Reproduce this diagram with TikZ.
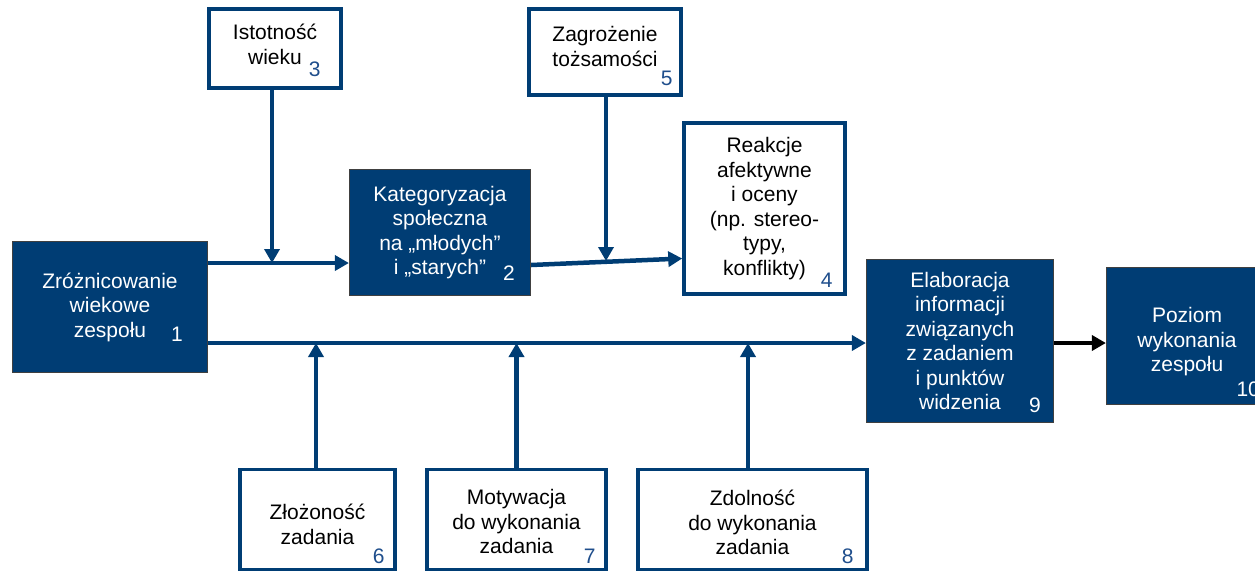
\documentclass[tikz,border=0pt]{standalone}
\usepackage{fontspec}
\setmainfont{Liberation Sans}
\usetikzlibrary{arrows.meta}
\definecolor{navy}{RGB}{0,61,116}
\definecolor{numblue}{RGB}{31,78,140}
\newcommand{\padtop}[1]{\rule{0pt}{#1}}
\newcommand{\padbot}[1]{\rule[-#1]{0pt}{#1}}

\begin{document}
\begin{tikzpicture}[x=1pt, y=-1pt,
        font=\fontsize{21}{24.5}\selectfont,
        darkbox/.style={draw=black!75, line width=1.2pt, fill=navy, text=white,
            align=center, inner sep=0pt},
        whitebox/.style={draw=navy, line width=3.5pt, fill=white,
            align=center, inner sep=0pt},
        num/.style={anchor=base east, inner sep=0pt, text=numblue},
        dnum/.style={num, text=white},
        arr/.style={draw=navy, line width=4.5pt, -{Triangle[length=14pt,width=15pt]}},
        blackarr/.style={draw=black, line width=4pt, -{Triangle[length=14pt,width=15pt]}}]
     \clip (0,0) rectangle (1255,571);
     % boxes
     \node[darkbox, minimum width=195pt, minimum height=131pt] (zroz) at (110,307)
        {Zróżnicowanie\\wiekowe\\zespołu};
     \node[darkbox, minimum width=181pt, minimum height=126pt] (kat) at (440,232.5)
        {Kategoryzacja\\społeczna\\na „młodych”\\i „starych”};
     \node[whitebox, minimum width=132pt, minimum height=79pt] (ist) at (275,48.5)
        {Istotność\\wieku\padbot{8pt}};
     \node[whitebox, minimum width=152pt, minimum height=86pt] (zagr) at (605,52)
        {Zagrożenie\\tożsamości\padbot{11pt}};
     \node[whitebox, minimum width=161pt, minimum height=171pt] (reak) at (764.5,208.5)
        {Reakcje\\afektywne\\i oceny\\(np. stereo-\\typy,\\konflikty)};
     \node[darkbox, minimum width=187pt, minimum height=163pt] (elab) at (960,341)
        {Elaboracja\\informacji\\związanych\\z zadaniem\\i punktów\\widzenia};
     \node[darkbox, minimum width=161pt, minimum height=137pt] (poziom) at (1187,336)
        {\padtop{27pt}Poziom\\wykonania\\zespołu};
     \node[whitebox, minimum width=155pt, minimum height=100pt] (zloz) at (317.5,519.5)
        {\padtop{25pt}Złożoność\\zadania};
     \node[whitebox, minimum width=179pt, minimum height=100pt] (motyw) at (516.5,519.5)
        {\padtop{20pt}Motywacja\\do wykonania\\zadania};
     \node[whitebox, minimum width=229pt, minimum height=100pt] (zdoln) at (752.5,519.5)
        {\padtop{22pt}Zdolność\\do wykonania\\zadania};
     % numbers
     \node[dnum] at ([shift={(-25,-32)}]zroz.south east) {1};
     \node[dnum] at ([shift={(-16,-16)}]kat.south east) {2};
     \node[num] at ([shift={(-22,-13)}]ist.south east) {3};
     \node[num] at ([shift={(-14,-8)}]reak.south east) {4};
     \node[num] at ([shift={(-10,-11)}]zagr.south east) {5};
     \node[num] at ([shift={(-12,-8)}]zloz.south east) {6};
     \node[num] at ([shift={(-12,-8)}]motyw.south east) {7};
     \node[num] at ([shift={(-15,-8)}]zdoln.south east) {8};
     \node[dnum] at ([shift={(-13,-11)}]elab.south east) {9};
     \node[dnum] at ([shift={(-8,-9)}]poziom.south east) {10};
     % connectors
     \coordinate (l1) at (0,263);
     \coordinate (l2) at (0,343);
     \coordinate (k1) at (0,265);
     \coordinate (k2) at (0,258.5);
     \draw[arr] (zroz.east |- l1) -- (kat.west |- l1);
     \draw[arr] ([xshift=-3pt]ist.south) -- ([xshift=-3pt]ist.south |- l1);
     \draw[arr] (kat.east |- k1) -- (reak.west |- k2);
     \draw[arr] ([xshift=1pt]zagr.south) -- ([xshift=1pt]zagr.south |- 0,261);
     \draw[arr] (zroz.east |- l2) -- (elab.west |- l2);
     \draw[arr] ([xshift=-1.5pt]zloz.north) -- ([xshift=-1.5pt]zloz.north |- l2);
     \draw[arr] (motyw.north) -- (motyw.north |- l2);
     \draw[arr] ([xshift=-4.5pt]zdoln.north) -- ([xshift=-4.5pt]zdoln.north |- l2);
     \draw[blackarr] (elab.east |- l2) -- (poziom.west |- l2);
\end{tikzpicture}
\end{document}
